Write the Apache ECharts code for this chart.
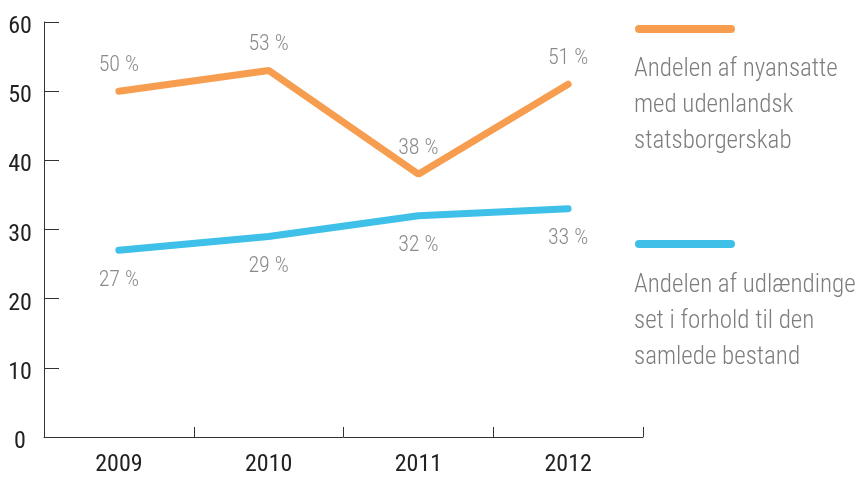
<!DOCTYPE html>
<html>
<head>
<meta charset="utf-8">
<script src="https://cdn.jsdelivr.net/npm/echarts@6/dist/echarts.min.js"></script>
<style>
  html, body { margin: 0; padding: 0; background: #fff; }
  #chart { width: 861px; height: 477px; }
</style>
</head>
<body>
<div id="chart"></div>
<script>
// data
const years = ['2009', '2010', '2011', '2012'];
const nyansatte = [50, 53, 38, 51];
const udlaendinge = [27, 29, 32, 33];
const legendNyansatte = ['Andelen af nyansatte', 'med udenlandsk', 'statsborgerskab'];
const legendUdlaendinge = ['Andelen af udlændinge', 'set i forhold til den', 'samlede bestand'];

const FONT = "'Roboto Condensed', Roboto, sans-serif";
const ORANGE = '#f79d4f';
const BLUE = '#3ec0e8';

const myChart = echarts.init(document.getElementById('chart'));

function pct(p) { return p.value + ' %'; }

const option = {
    animation: false,
    grid: { left: 44, right: 218, top: 22, bottom: 38 },
    xAxis: {
        type: 'category',
        data: years,
        boundaryGap: true,
        axisLine: { lineStyle: { color: '#333', width: 1 } },
        axisTick: { show: true, inside: true, length: 10, lineStyle: { color: '#333', width: 1 } },
        axisLabel: { color: '#222', fontFamily: FONT, fontWeight: 400, fontSize: 24, margin: 16 }
    },
    yAxis: {
        type: 'value',
        min: 0, max: 60, interval: 10,
        axisLine: { show: true, lineStyle: { color: '#333', width: 1 } },
        axisTick: { show: true, inside: true, length: 15, lineStyle: { color: '#333', width: 1 } },
        splitLine: { show: false },
        // labels sit a little below their ticks in the original
        axisLabel: { color: '#222', fontFamily: FONT, fontWeight: 400, fontSize: 24, margin: 24,
                     align: 'center', verticalAlign: 'top', lineHeight: 10 }
    },
    series: [
        {
            name: legendNyansatte.join(' '),
            type: 'line',
            data: nyansatte,
            symbol: 'circle',
            symbolSize: 2,
            itemStyle: { color: 'rgba(0,0,0,0)' },
            lineStyle: { color: ORANGE, width: 7, cap: 'round' },
            label: { show: true, position: 'top', distance: 14, formatter: pct,
                     color: '#8a8a8a', fontFamily: FONT, fontWeight: 300, fontSize: 22 }
        },
        {
            name: legendUdlaendinge.join(' '),
            type: 'line',
            data: udlaendinge,
            symbol: 'circle',
            symbolSize: 2,
            itemStyle: { color: 'rgba(0,0,0,0)' },
            lineStyle: { color: BLUE, width: 7, cap: 'round' },
            label: { show: true, position: 'bottom', distance: 18, formatter: pct,
                     color: '#8a8a8a', fontFamily: FONT, fontWeight: 300, fontSize: 22 }
        }
    ],
    graphic: [
        { type: 'line', shape: { x1: 639, y1: 29, x2: 731, y2: 29 },
          style: { stroke: ORANGE, lineWidth: 8, lineCap: 'round' } },
        { type: 'text', left: 634, top: 52,
          style: { text: legendNyansatte.join('\n'), fill: '#7d7d7d', fontFamily: FONT, fontWeight: 300, fontSize: 25, lineHeight: 36 } },
        { type: 'line', shape: { x1: 639, y1: 244, x2: 731, y2: 244 },
          style: { stroke: BLUE, lineWidth: 8, lineCap: 'round' } },
        { type: 'text', left: 634, top: 268,
          style: { text: legendUdlaendinge.join('\n'), fill: '#7d7d7d', fontFamily: FONT, fontWeight: 300, fontSize: 25, lineHeight: 36 } }
    ]
};

option && myChart.setOption(option);
</script>
</body>
</html>
